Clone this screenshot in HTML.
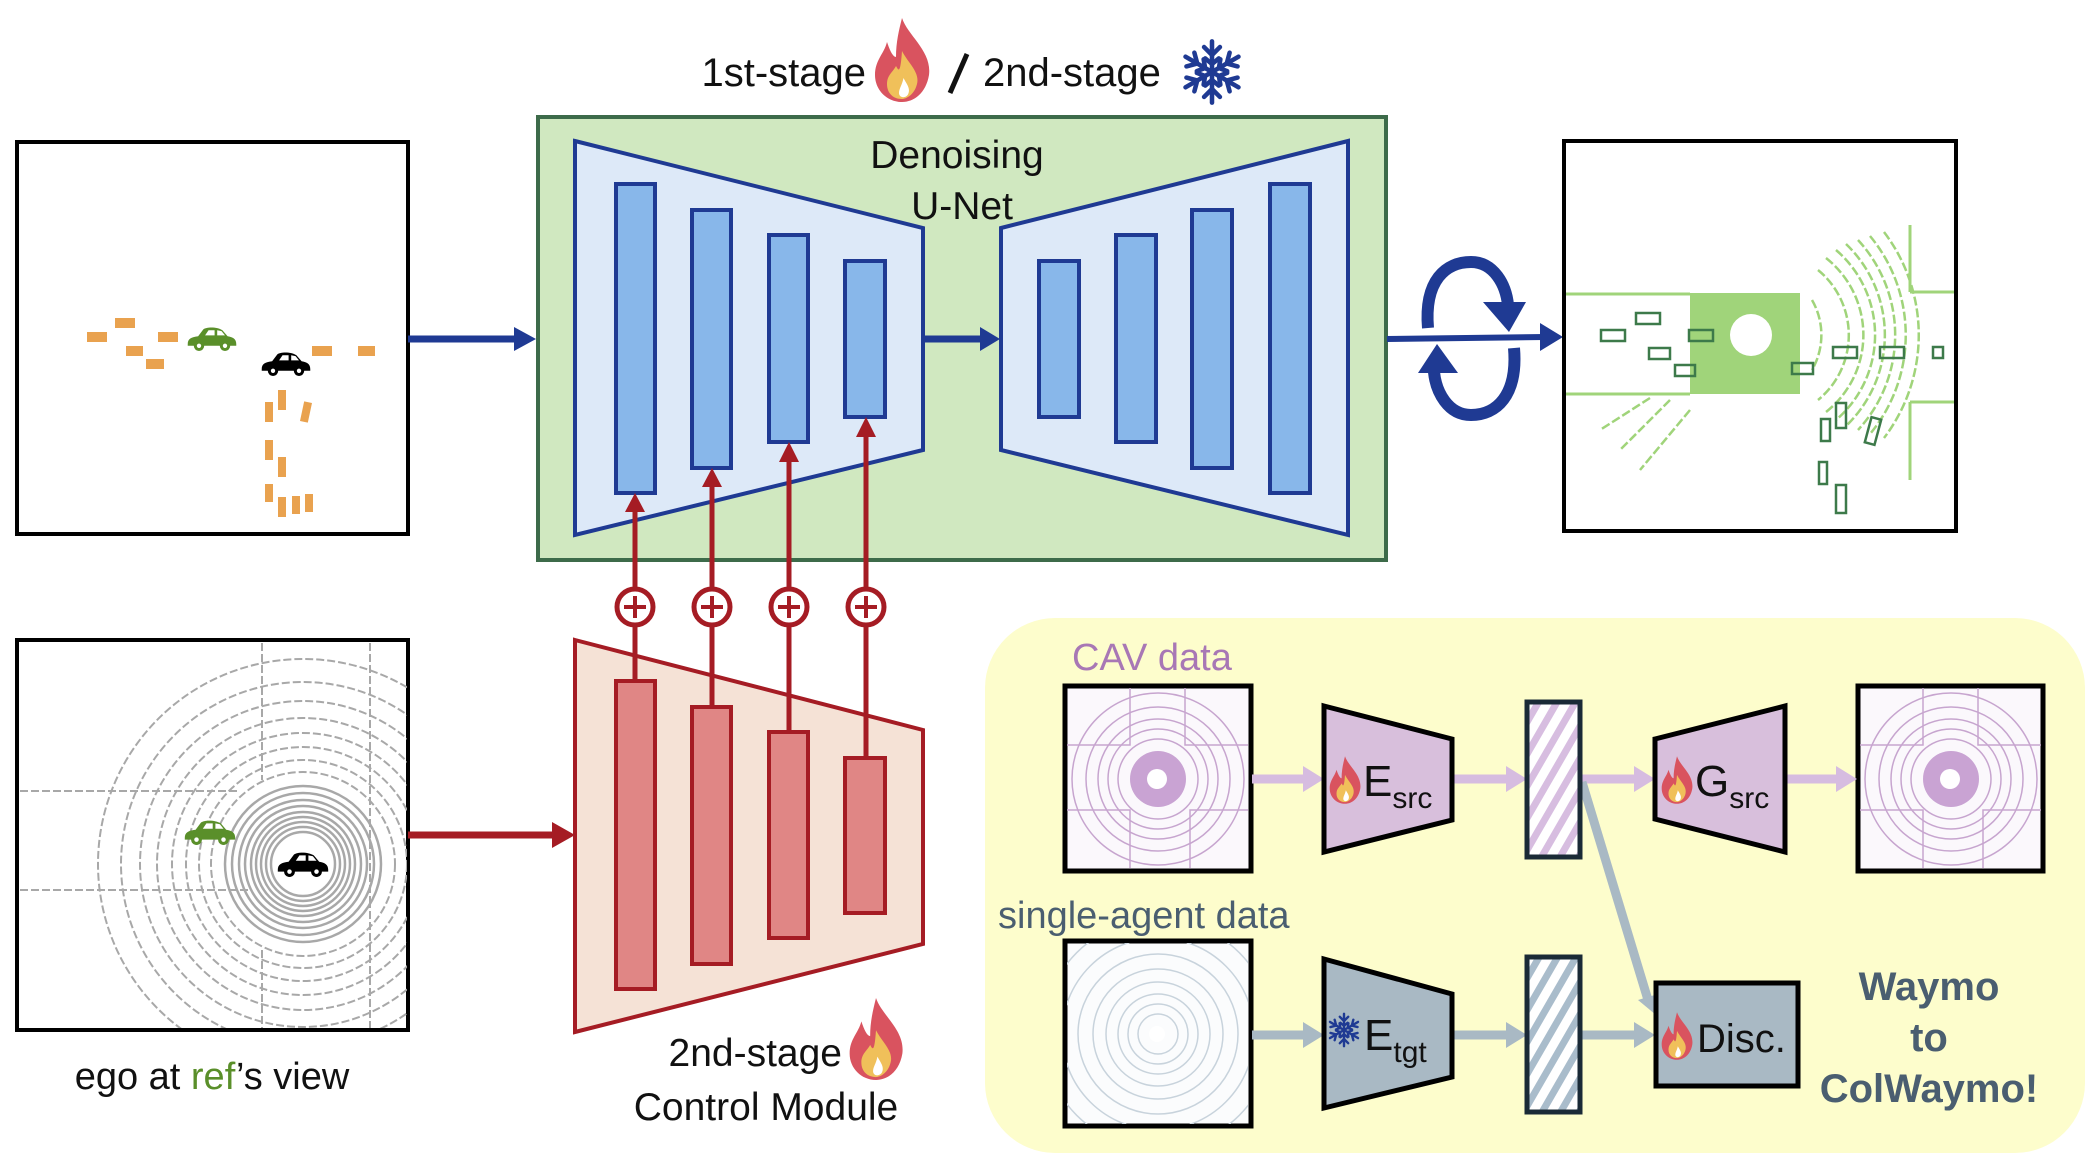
<!DOCTYPE html>
<html><head><meta charset="utf-8"><style>
html,body{margin:0;padding:0;background:#fff;}
svg{display:block;font-family:"Liberation Sans",Arial,sans-serif;}
</style></head><body>
<svg width="2097" height="1175" viewBox="0 0 2097 1175" xmlns="http://www.w3.org/2000/svg">
<defs>
<symbol id="fire" viewBox="0 0 40 56">
<path d="M20 0 C24 12 40 22 38 38 C36 50 28 56 20 56 C10 56 2 48 2 38 C2 28 8 24 10 16 C12 22 14 26 16 26 C16 16 18 8 20 0Z" fill="#d9535f"/>
<path d="M20 22 C24 30 32 36 30 44 C28 52 22 54 20 54 C14 54 10 50 10 44 C10 38 14 36 16 32 C18 36 19 36 20 22Z" fill="#f0c05a"/>
<path d="M21 40 C23 44 26 47 24 51 C22 54 18 53 18 50 C18 47 20 45 21 40Z" fill="#fff"/>
</symbol>
<symbol id="snow" viewBox="-30 -30 60 60">
<g stroke="#1f3a93" stroke-width="4" fill="none" stroke-linecap="round">
<g id="arm"><line x1="0" y1="0" x2="0" y2="-27"/><polyline points="-7,-22 0,-15 7,-22"/><polyline points="-6,-12 0,-7 6,-12"/></g>
<use href="#arm" transform="rotate(60)"/><use href="#arm" transform="rotate(120)"/><use href="#arm" transform="rotate(180)"/><use href="#arm" transform="rotate(240)"/><use href="#arm" transform="rotate(300)"/>
</g>
</symbol>
<symbol id="car" viewBox="0 0 60 30">
<path d="M2 22 C2 16 6 14 14 13 L20 5 C24 2 36 2 42 6 L48 13 C54 14 58 16 58 22 L58 24 L2 24Z"/>
<circle cx="15" cy="24" r="6"/><circle cx="45" cy="24" r="6"/>
<circle cx="15" cy="24" r="2.5" fill="#fff"/><circle cx="45" cy="24" r="2.5" fill="#fff"/>
<path d="M22 12 L26 6 L33 6 L33 12Z M36 12 L36 6 L41 7 L45 12Z" fill="#fff"/>
</symbol>
<pattern id="hp" width="16" height="16" patternUnits="userSpaceOnUse" patternTransform="rotate(30)">
<rect width="16" height="16" fill="#fff"/><rect width="7" height="16" fill="#d7bde0"/></pattern>
<pattern id="hg" width="16" height="16" patternUnits="userSpaceOnUse" patternTransform="rotate(30)">
<rect width="16" height="16" fill="#fff"/><rect width="7" height="16" fill="#a9bccb"/></pattern>
<clipPath id="cOut"><rect x="1566" y="143" width="388" height="386"/></clipPath>
<clipPath id="cBL"><rect x="19" y="643" width="388" height="385"/></clipPath>
<clipPath id="cC1"><rect x="1067" y="688" width="181" height="180"/></clipPath>
<clipPath id="cC2"><rect x="1860" y="688" width="182" height="180"/></clipPath>
<clipPath id="cC3"><rect x="1067" y="943" width="181" height="181"/></clipPath>
</defs>

<!-- title -->
<text x="866" y="86" font-size="40" text-anchor="end" fill="#111">1st-stage</text>
<use href="#fire" x="872" y="18" width="60" height="84"/>
<line x1="950" y1="93" x2="967" y2="54" stroke="#111" stroke-width="5"/>
<text x="983" y="86" font-size="40" fill="#111">2nd-stage</text>
<use href="#snow" x="1178" y="38" width="68" height="68"/>

<!-- top-left box -->
<rect x="17" y="142" width="391" height="392" fill="#fff" stroke="#000" stroke-width="4"/>
<g fill="#e9a24f">
<rect x="87" y="332" width="20" height="10"/><rect x="115" y="318" width="20" height="10"/>
<rect x="126" y="346" width="17" height="10"/><rect x="146" y="359" width="18" height="10"/>
<rect x="158" y="332" width="20" height="10"/><rect x="312" y="346" width="20" height="10"/>
<rect x="358" y="346" width="17" height="10"/>
<rect x="278" y="390" width="8" height="20"/><rect x="265" y="402" width="8" height="20"/>
<rect x="302" y="402" width="8" height="20" transform="rotate(12 306 412)"/>
<rect x="265" y="440" width="8" height="20"/><rect x="278" y="457" width="8" height="20"/>
<rect x="265" y="484" width="8" height="18"/><rect x="278" y="497" width="8" height="20"/>
<rect x="292" y="496" width="8" height="18"/><rect x="305" y="494" width="8" height="18"/>
</g>
<use href="#car" x="186" y="325" width="52" height="26" fill="#5a8f2a"/>
<use href="#car" x="260" y="350" width="52" height="26" fill="#000"/>

<!-- arrow to unet -->
<line x1="408" y1="339" x2="516" y2="339" stroke="#1f3a93" stroke-width="7"/>
<polygon points="514,327 536,339 514,351" fill="#1f3a93"/>

<!-- green box -->
<rect x="538" y="117" width="848" height="443" fill="#d0e8c0" stroke="#3d6b4a" stroke-width="4"/>
<polygon points="575,141 923,228 923,450 575,535" fill="#dde9f8" stroke="#1f3a93" stroke-width="4"/>
<polygon points="1001,228 1348,141 1348,535 1001,450" fill="#dde9f8" stroke="#1f3a93" stroke-width="4"/>
<g fill="#88b7ea" stroke="#1f3a93" stroke-width="4">
<rect x="616" y="184" width="39" height="309"/><rect x="692" y="210" width="39" height="258"/>
<rect x="769" y="235" width="39" height="207"/><rect x="845" y="261" width="40" height="156"/>
<rect x="1039" y="261" width="40" height="156"/><rect x="1116" y="235" width="40" height="207"/>
<rect x="1192" y="210" width="40" height="258"/><rect x="1270" y="184" width="40" height="309"/>
</g>
<text x="957" y="168" font-size="39" text-anchor="middle" fill="#111">Denoising</text>
<text x="962" y="219" font-size="39" text-anchor="middle" fill="#111">U-Net</text>
<line x1="923" y1="339" x2="982" y2="339" stroke="#1f3a93" stroke-width="7"/>
<polygon points="980,327 1000,339 980,351" fill="#1f3a93"/>

<!-- output arrow + rotation -->
<line x1="1387" y1="339" x2="1545" y2="337" stroke="#1f3a93" stroke-width="6"/>
<polygon points="1540,323 1563,337 1540,351" fill="#1f3a93"/>
<path d="M1428 328 C1424 280 1446 262 1471 262 C1494 262 1506 285 1508 305" fill="none" stroke="#1f3a93" stroke-width="12"/>
<polygon points="1483,302 1526,302 1509,332" fill="#1f3a93"/>
<path d="M1514 348 C1518 396 1496 415 1471 415 C1448 415 1436 392 1434 372" fill="none" stroke="#1f3a93" stroke-width="12"/>
<polygon points="1418,373 1458,373 1437,344" fill="#1f3a93"/>

<!-- output lidar -->
<rect x="1564" y="141" width="392" height="390" fill="#fff" stroke="#000" stroke-width="4"/>
<g clip-path="url(#cOut)">
<rect x="1690" y="293" width="110" height="101" fill="#a0d47a"/>
<circle cx="1751" cy="335" r="21" fill="#fff"/>
<g fill="none" stroke="#a0d47a" stroke-width="2.5" stroke-dasharray="9 3">
<path d="M1812 300 A70 70 0 0 1 1812 370"/>
<path d="M1818 270 A84 84 0 0 1 1818 400"/>
<path d="M1826 258 A98 98 0 0 1 1826 412"/>
<path d="M1836 250 A112 112 0 0 1 1836 420"/>
<path d="M1846 244 A126 126 0 0 1 1846 426"/>
<path d="M1858 240 A140 140 0 0 1 1858 430"/>
<path d="M1870 236 A155 155 0 0 1 1870 434"/>
<path d="M1884 232 A170 170 0 0 1 1884 438"/>
<path d="M1690 410 L1640 470 M1670 400 L1620 450 M1650 398 L1600 430"/>
</g>
<g stroke="#a0d47a" stroke-width="3" fill="none">
<line x1="1566" y1="294" x2="1690" y2="294"/>
<line x1="1566" y1="394" x2="1690" y2="394"/>
<line x1="1910" y1="225" x2="1910" y2="292"/>
<line x1="1910" y1="292" x2="1956" y2="292"/>
<line x1="1910" y1="402" x2="1956" y2="402"/>
<line x1="1910" y1="402" x2="1910" y2="480"/>
</g>
<g fill="none" stroke="#3d7a4a" stroke-width="2.5">
<rect x="1636" y="313" width="24" height="11"/><rect x="1601" y="330" width="24" height="11"/>
<rect x="1649" y="348" width="21" height="11"/><rect x="1675" y="365" width="20" height="11"/>
<rect x="1689" y="330" width="24" height="11"/><rect x="1833" y="347" width="24" height="11"/>
<rect x="1880" y="347" width="24" height="11"/><rect x="1933" y="347" width="10" height="11"/>
<rect x="1792" y="363" width="21" height="11"/><rect x="1836" y="403" width="10" height="25"/>
<rect x="1821" y="419" width="9" height="22"/><rect x="1868" y="418" width="10" height="26" transform="rotate(15 1873 431)"/>
<rect x="1819" y="462" width="8" height="22"/><rect x="1836" y="485" width="10" height="28"/>
</g>
</g>

<!-- plus circles & red arrows -->
<g stroke="#a51c24" stroke-width="5" fill="none">
<line x1="635" y1="681" x2="635" y2="510"/><line x1="712" y1="707" x2="712" y2="485"/>
<line x1="789" y1="732" x2="789" y2="460"/><line x1="866" y1="758" x2="866" y2="435"/>
</g>
<g fill="#a51c24">
<polygon points="625,512 645,512 635,493"/><polygon points="702,487 722,487 712,468"/>
<polygon points="779,462 799,462 789,442"/><polygon points="856,437 876,437 866,417"/>
</g>
<g fill="#fff" stroke="#a51c24" stroke-width="5">
<circle cx="635" cy="607" r="18"/><circle cx="712" cy="607" r="18"/><circle cx="789" cy="607" r="18"/><circle cx="866" cy="607" r="18"/>
</g>
<g stroke="#a51c24" stroke-width="4">
<path d="M624 607 H646 M635 596 V618"/><path d="M701 607 H723 M712 596 V618"/>
<path d="M778 607 H800 M789 596 V618"/><path d="M855 607 H877 M866 596 V618"/>
</g>

<!-- bottom-left lidar -->
<rect x="17" y="640" width="391" height="390" fill="#fff" stroke="#000" stroke-width="4"/>
<g clip-path="url(#cBL)">
<g fill="none" stroke="#a8a8a8" stroke-width="2" stroke-dasharray="8 3">
<circle cx="303" cy="864" r="92"/><circle cx="303" cy="864" r="104"/><circle cx="303" cy="864" r="117"/>
<circle cx="303" cy="864" r="131"/><circle cx="303" cy="864" r="146"/><circle cx="303" cy="864" r="163"/><circle cx="303" cy="864" r="182"/><circle cx="303" cy="864" r="205"/>
<line x1="20" y1="791" x2="240" y2="791"/><line x1="20" y1="890" x2="250" y2="890"/>
<line x1="262" y1="643" x2="262" y2="780"/><line x1="370" y1="643" x2="370" y2="900"/>
<line x1="370" y1="900" x2="370" y2="1028"/><line x1="262" y1="950" x2="262" y2="1028"/>
</g>
<g fill="none" stroke="#a8a8a8" stroke-width="2.5">
<circle cx="303" cy="864" r="32"/><circle cx="303" cy="864" r="37"/><circle cx="303" cy="864" r="42"/><circle cx="303" cy="864" r="47"/>
<circle cx="303" cy="864" r="52"/><circle cx="303" cy="864" r="58"/><circle cx="303" cy="864" r="64"/><circle cx="303" cy="864" r="71"/><circle cx="303" cy="864" r="78"/>
</g>
<circle cx="303" cy="866" r="27" fill="#fff"/>
</g>
<use href="#car" x="183" y="818" width="54" height="27" fill="#5a8f2a"/>
<use href="#car" x="276" y="850" width="54" height="27" fill="#000"/>
<text x="212" y="1089" font-size="38" text-anchor="middle" fill="#111">ego at <tspan fill="#5a8f2a">ref</tspan>’s view</text>
<line x1="408" y1="835" x2="555" y2="835" stroke="#a51c24" stroke-width="7"/>
<polygon points="552,822 575,835 552,848" fill="#a51c24"/>

<!-- control module -->
<polygon points="575,640 923,730 923,944 575,1032" fill="#f5e2d6" stroke="#a51c24" stroke-width="4"/>
<g fill="#e08685" stroke="#a51c24" stroke-width="4">
<rect x="616" y="681" width="39" height="308"/><rect x="692" y="707" width="39" height="257"/>
<rect x="769" y="732" width="39" height="206"/><rect x="845" y="758" width="40" height="155"/>
</g>
<g stroke="#a51c24" stroke-width="5">
<line x1="635" y1="625" x2="635" y2="681"/><line x1="712" y1="625" x2="712" y2="707"/>
<line x1="789" y1="625" x2="789" y2="732"/><line x1="866" y1="625" x2="866" y2="758"/>
</g>
<text x="842" y="1066" font-size="39" text-anchor="end" fill="#111">2nd-stage</text>
<use href="#fire" x="846" y="998" width="60" height="82"/>
<text x="766" y="1120" font-size="39" text-anchor="middle" fill="#111">Control Module</text>

<!-- yellow region -->
<rect x="985" y="618" width="1100" height="535" rx="70" fill="#fdfdcc"/>
<text x="1072" y="670" font-size="38" fill="#a877b5">CAV data</text>
<text x="998" y="928" font-size="38" fill="#4a5e70">single-agent data</text>

<!-- CAV input -->
<rect x="1065" y="686" width="186" height="185" fill="#fbf8fc" stroke="#000" stroke-width="5"/>
<g clip-path="url(#cC1)" fill="none" stroke="#c7a5cf" stroke-width="1.5">
<circle cx="1158" cy="779" r="40"/><circle cx="1158" cy="779" r="50"/><circle cx="1158" cy="779" r="60"/><circle cx="1158" cy="779" r="72"/><circle cx="1158" cy="779" r="86"/>
<path d="M1067 745 H1130 V688 M1185 688 V745 H1248 M1067 810 H1130 V868 M1190 868 V810 H1248"/>
</g>
<circle cx="1158" cy="779" r="28" fill="#c9a3d3"/><circle cx="1157" cy="779" r="10" fill="#fff"/>
<!-- CAV output -->
<rect x="1858" y="686" width="185" height="185" fill="#fbf8fc" stroke="#000" stroke-width="5"/>
<g clip-path="url(#cC2)" fill="none" stroke="#c7a5cf" stroke-width="1.5">
<circle cx="1951" cy="779" r="40"/><circle cx="1951" cy="779" r="50"/><circle cx="1951" cy="779" r="60"/><circle cx="1951" cy="779" r="72"/><circle cx="1951" cy="779" r="86"/>
<path d="M1860 745 H1923 V688 M1978 688 V745 H2041 M1860 810 H1923 V868 M1983 868 V810 H2041"/>
</g>
<circle cx="1951" cy="779" r="28" fill="#c9a3d3"/><circle cx="1950" cy="779" r="10" fill="#fff"/>
<!-- single-agent input -->
<rect x="1065" y="941" width="186" height="185" fill="#fbfcfd" stroke="#000" stroke-width="5"/>
<g clip-path="url(#cC3)" fill="none" stroke="#c8d3dc" stroke-width="1.5">
<circle cx="1158" cy="1034" r="20"/><circle cx="1158" cy="1034" r="30"/><circle cx="1158" cy="1034" r="40"/><circle cx="1158" cy="1034" r="52"/>
<circle cx="1158" cy="1034" r="65"/><circle cx="1158" cy="1034" r="80"/><circle cx="1158" cy="1034" r="96"/><circle cx="1158" cy="1034" r="115"/>
</g>
<circle cx="1157" cy="1034" r="8" fill="#fff"/>

<!-- purple arrows -->
<g stroke="#d6bce0" stroke-width="9">
<line x1="1252" y1="779" x2="1305" y2="779"/><line x1="1452" y1="779" x2="1508" y2="779"/>
<line x1="1580" y1="779" x2="1636" y2="779"/><line x1="1785" y1="779" x2="1838" y2="779"/>
</g>
<g fill="#d6bce0">
<polygon points="1303,766 1324,779 1303,792"/><polygon points="1506,766 1527,779 1506,792"/>
<polygon points="1634,766 1655,779 1634,792"/><polygon points="1836,766 1857,779 1836,792"/>
</g>
<!-- gray arrows -->
<g stroke="#a9b9c4" stroke-width="9">
<line x1="1252" y1="1035" x2="1305" y2="1035"/><line x1="1452" y1="1035" x2="1508" y2="1035"/>
<line x1="1580" y1="1035" x2="1636" y2="1035"/>
<line x1="1582" y1="782" x2="1648" y2="1000"/>
</g>
<g fill="#a9b9c4">
<polygon points="1303,1022 1324,1035 1303,1048"/><polygon points="1506,1022 1527,1035 1506,1048"/>
<polygon points="1634,1022 1655,1035 1634,1048"/><polygon points="1638,1000 1656,1015 1658,994"/>
</g>

<!-- E_src -->
<polygon points="1324,706 1452,739 1452,820 1324,852" fill="#d8bfdc" stroke="#000" stroke-width="5"/>
<use href="#fire" x="1328" y="756" width="34" height="48"/>
<text x="1363" y="796" font-size="44" fill="#111">E<tspan font-size="30" dy="12">src</tspan></text>
<!-- latent -->
<rect x="1527" y="702" width="53" height="155" fill="url(#hp)" stroke="#1a2a36" stroke-width="5"/>
<rect x="1527" y="957" width="53" height="155" fill="url(#hg)" stroke="#1a2a36" stroke-width="5"/>
<!-- G_src -->
<polygon points="1655,739 1785,706 1785,852 1655,819" fill="#d8bfdc" stroke="#000" stroke-width="5"/>
<use href="#fire" x="1660" y="756" width="34" height="48"/>
<text x="1695" y="796" font-size="44" fill="#111">G<tspan font-size="30" dy="12">src</tspan></text>
<!-- E_tgt -->
<polygon points="1324,959 1452,994 1452,1077 1324,1108" fill="#a9b9c4" stroke="#000" stroke-width="5"/>
<use href="#snow" x="1326" y="1012" width="36" height="36"/>
<text x="1364" y="1050" font-size="44" fill="#111">E<tspan font-size="30" dy="12">tgt</tspan></text>
<!-- Disc -->
<rect x="1656" y="983" width="142" height="103" fill="#a9b9c4" stroke="#000" stroke-width="5"/>
<use href="#fire" x="1660" y="1012" width="34" height="48"/>
<text x="1697" y="1052" font-size="40" fill="#111">Disc.</text>

<g font-size="40" font-weight="bold" fill="#4a5e70" text-anchor="middle">
<text x="1929" y="1000">Waymo</text><text x="1929" y="1051">to</text><text x="1929" y="1102">ColWaymo!</text>
</g>
</svg>
</body></html>
